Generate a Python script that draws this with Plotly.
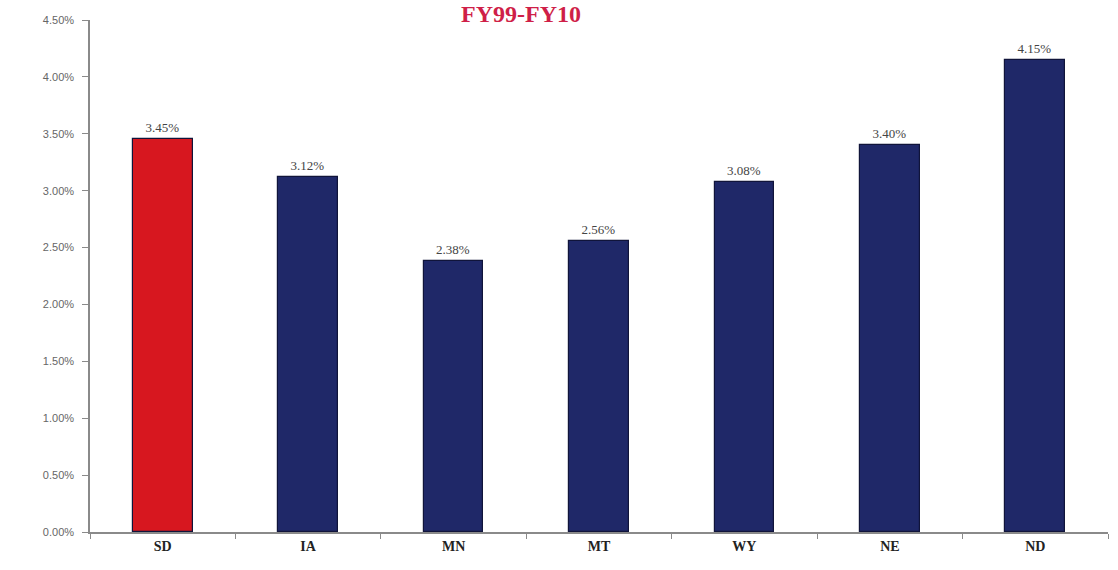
import plotly.graph_objs as go

# average annual growth by state, FY99-FY10
states = ["SD", "IA", "MN", "MT", "WY", "NE", "ND"]
growth = [3.45, 3.12, 2.38, 2.56, 3.08, 3.40, 4.15]
y_ticks = [0, 0.5, 1.0, 1.5, 2.0, 2.5, 3.0, 3.5, 4.0, 4.5]

colors = ["#d7171f" if s == "SD" else "#1f2868" for s in states]

fig = go.Figure(data=[go.Bar(
    x=states, y=growth,
    marker=dict(color=colors, line=dict(color="#10143a", width=1.2)),
    width=0.41,
    text=[f"{v:.2f}%" for v in growth],
    textposition="outside",
    textfont=dict(family="Liberation Serif", size=13, color="#444444"),
    cliponaxis=False,
)])

fig.update_layout(
    width=1118, height=570,
    paper_bgcolor="white", plot_bgcolor="white",
    margin=dict(l=90, r=10, t=20, b=38, autoexpand=False),
    showlegend=False,
    bargap=0,
    annotations=[dict(
        text="<b>FY99-FY10</b>", xref="paper", x=(521 - 90) / 1018,
        yref="paper", y=1 + 20 / 512, yanchor="top", showarrow=False,
        borderpad=0,
        font=dict(family="Liberation Serif", size=24, color="#cf1f48"),
    )],
)

fig.update_xaxes(
    range=[-0.5, 6.5], automargin=False,
    showline=True, linecolor="#8a8a8a", linewidth=1.5,
    ticks="outside", tickson="boundaries", ticklen=5, tickcolor="#8a8a8a",
    tickfont=dict(family="Liberation Serif", size=14, color="#222222", weight="bold"),
    showgrid=False,
)
fig.update_yaxes(
    range=[0, 4.5], automargin=False,
    tickvals=y_ticks, ticktext=[f"{v:.2f}%" for v in y_ticks],
    showline=True, linecolor="#8a8a8a", linewidth=1.5,
    ticks="outside", ticklen=6, tickcolor="#8a8a8a", ticklabelstandoff=6,
    tickfont=dict(family="Liberation Sans", size=11, color="#666666"),
    showgrid=False, zeroline=False,
)

# drop the browser's default body margin so the figure sits at the page corner
fig.write_html("out.html", config={"displayModeBar": False},
               post_script="document.body.style.margin='0';")
